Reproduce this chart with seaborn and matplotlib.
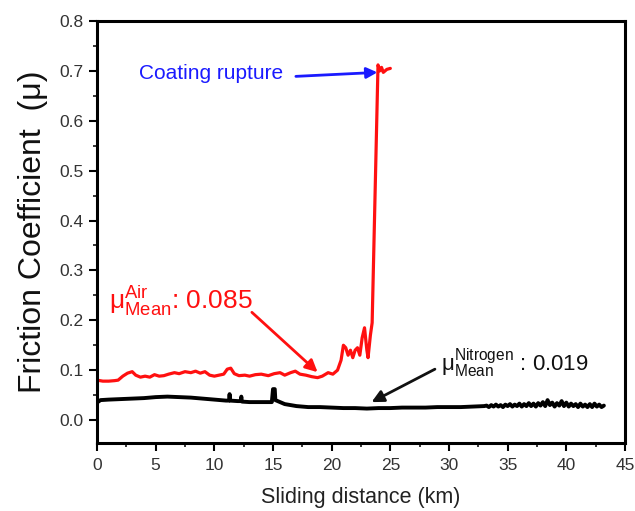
import numpy as np
import pandas as pd
import matplotlib
matplotlib.use("Agg")
import matplotlib.pyplot as plt
from matplotlib.ticker import MultipleLocator
import seaborn as sns

# ---------------- data ----------------
air_x = [0.0, 0.5, 1.0, 1.5, 1.8, 2.2, 2.6, 3.0, 3.3, 3.7, 4.1, 4.5, 4.9, 5.3, 5.7,
         6.1, 6.6, 7.0, 7.5, 8.0, 8.4, 8.8, 9.2, 9.6, 10.0, 10.4, 10.8, 11.1, 11.4,
         11.7, 12.1, 12.6, 13.0, 13.5, 14.0, 14.6, 15.1, 15.6, 16.0, 16.5, 16.9,
         17.3, 17.8, 18.3, 18.8, 19.2, 19.7, 20.1, 20.5, 20.8, 21.0, 21.2, 21.4,
         21.6, 21.8, 22.0, 22.2, 22.4, 22.6, 22.8, 23.0, 23.1, 23.3, 23.45, 23.95,
         24.1, 24.25, 24.4, 24.7, 25.0]
air_y = [0.080, 0.078, 0.078, 0.079, 0.080, 0.088, 0.094, 0.097, 0.090, 0.086,
         0.088, 0.086, 0.091, 0.088, 0.089, 0.092, 0.095, 0.093, 0.097, 0.095,
         0.098, 0.094, 0.097, 0.090, 0.088, 0.090, 0.092, 0.102, 0.104, 0.093,
         0.089, 0.090, 0.088, 0.091, 0.092, 0.089, 0.093, 0.095, 0.090, 0.095,
         0.098, 0.092, 0.090, 0.087, 0.085, 0.088, 0.095, 0.092, 0.100, 0.120,
         0.150, 0.145, 0.130, 0.140, 0.125, 0.140, 0.145, 0.130, 0.165, 0.185,
         0.140, 0.125, 0.170, 0.195, 0.712, 0.700, 0.707, 0.697, 0.703, 0.705]

n2_x = [0.0, 0.3, 1.0, 2.0, 3.0, 4.0, 5.0, 6.0, 7.0, 8.0, 9.0, 10.0, 11.0, 11.25,
        11.3, 11.35, 12.0, 12.25, 12.3, 12.35, 13.0, 14.0, 14.9, 15.0, 15.05,
        15.15, 15.2, 15.6, 16.0, 16.5, 17.0, 17.5, 18.0, 19.0, 20.0, 21.0, 22.0,
        23.0, 24.0, 25.0, 26.0, 27.0, 28.0, 29.0, 30.0, 31.0, 32.0, 33.0,
        33.2, 33.4, 33.6, 33.8, 34.0, 34.2, 34.4, 34.6, 34.8, 35.0, 35.2, 35.4,
        35.6, 35.8, 36.0, 36.2, 36.4, 36.6, 36.8, 37.0, 37.2, 37.4, 37.6, 37.8,
        38.0, 38.2, 38.4, 38.6, 38.8, 39.0, 39.2, 39.4, 39.6, 39.8, 40.0, 40.2,
        40.4, 40.6, 40.8, 41.0, 41.2, 41.4, 41.6, 41.8, 42.0, 42.2, 42.4, 42.6,
        42.8, 43.0, 43.2]
n2_y = [0.035, 0.040, 0.041, 0.042, 0.043, 0.044, 0.046, 0.047, 0.046, 0.045,
        0.043, 0.041, 0.039, 0.039, 0.052, 0.039, 0.038, 0.038, 0.047, 0.037,
        0.036, 0.036, 0.036, 0.062, 0.062, 0.062, 0.040, 0.036, 0.032, 0.030,
        0.028, 0.027, 0.026, 0.026, 0.025, 0.024, 0.024, 0.023, 0.024, 0.024,
        0.025, 0.025, 0.025, 0.026, 0.026, 0.026, 0.027, 0.028,
        0.029, 0.026, 0.030, 0.027, 0.031, 0.027, 0.030, 0.026, 0.031, 0.028,
        0.032, 0.027, 0.031, 0.028, 0.033, 0.027, 0.032, 0.028, 0.034, 0.028,
        0.033, 0.027, 0.034, 0.029, 0.036, 0.028, 0.040, 0.030, 0.035, 0.027,
        0.034, 0.029, 0.038, 0.028, 0.035, 0.027, 0.033, 0.028, 0.032, 0.026,
        0.033, 0.027, 0.031, 0.026, 0.032, 0.026, 0.033, 0.027, 0.031, 0.026,
        0.029]

x_ticks = [0, 5, 10, 15, 20, 25, 30, 35, 40, 45]
y_ticks = [0.0, 0.1, 0.2, 0.3, 0.4, 0.5, 0.6, 0.7, 0.8]

air_df = pd.DataFrame({"distance": air_x, "mu": air_y})
n2_df = pd.DataFrame({"distance": n2_x, "mu": n2_y})

# ---------------- style ----------------
sns.set_style("ticks")
plt.rcParams["font.family"] = ["Liberation Sans", "DejaVu Sans"]
plt.rcParams["mathtext.fontset"] = "custom"
plt.rcParams["mathtext.rm"] = "Liberation Sans"

fig = plt.figure(figsize=(6.35, 5.11), dpi=100)
ax = fig.add_axes([97 / 635, 1 - 443 / 511, (625 - 97) / 635, (443 - 21) / 511])

sns.lineplot(data=n2_df, x="distance", y="mu", ax=ax, color="black", lw=2.8,
             estimator=None, sort=False)
sns.lineplot(data=air_df, x="distance", y="mu", ax=ax, color="#ff1010", lw=2.3,
             estimator=None, sort=False)

ax.set_xlim(0, 45)
ax.set_ylim(-0.046, 0.8)
ax.set_xticks(x_ticks)
ax.set_yticks(y_ticks)
ax.set_xticklabels([str(v) for v in x_ticks])
ax.set_yticklabels([f"{v:.1f}" for v in y_ticks])
ax.xaxis.set_minor_locator(MultipleLocator(2.5))
ax.yaxis.set_minor_locator(MultipleLocator(0.05))
ax.tick_params(which="major", direction="out", length=6, width=1.5,
               labelsize=12.5, colors="black", labelcolor="#333333")
ax.tick_params(axis="x", which="major", labelsize=12.5, pad=5)
ax.tick_params(which="minor", direction="out", length=3, width=1.3)
for s in ax.spines.values():
    s.set_visible(True)
    s.set_linewidth(2.2)
    s.set_color("black")

ax.set_xlabel("Sliding distance (km)", fontsize=15.5, labelpad=10, color="#222222")
ax.set_ylabel("Friction Coefficient  (μ)", fontsize=23, labelpad=8, color="#111111")

# ---------------- annotations ----------------
ax.text(3.6, 0.694, "Coating rupture", color="#1a1aff", fontsize=15,
        ha="left", va="center")
ax.annotate("", xy=(23.9, 0.697), xytext=(16.95, 0.689),
            arrowprops=dict(arrowstyle="-|>", color="#1a1aff", lw=2,
                            mutation_scale=16, shrinkA=0, shrinkB=0))

ax.text(1.0, 0.239, r"$\mathregular{μ^{Air}_{Mean}}$: 0.085", color="#ff1010",
        fontsize=19, ha="left", va="center")
ax.annotate("", xy=(18.8, 0.096), xytext=(13.2, 0.216),
            arrowprops=dict(arrowstyle="-|>", color="#ff1010", lw=2,
                            mutation_scale=18, shrinkA=0, shrinkB=0))

ax.text(29.3, 0.114, r"$\mathregular{μ^{Nitrogen}_{Mean}}$ : 0.019", color="#111111",
        fontsize=16, ha="left", va="center")
ax.annotate("", xy=(23.4, 0.036), xytext=(28.8, 0.102),
            arrowprops=dict(arrowstyle="-|>", color="#111111", lw=2,
                            mutation_scale=18, shrinkA=0, shrinkB=0))

fig.savefig("out.png", dpi=100)
